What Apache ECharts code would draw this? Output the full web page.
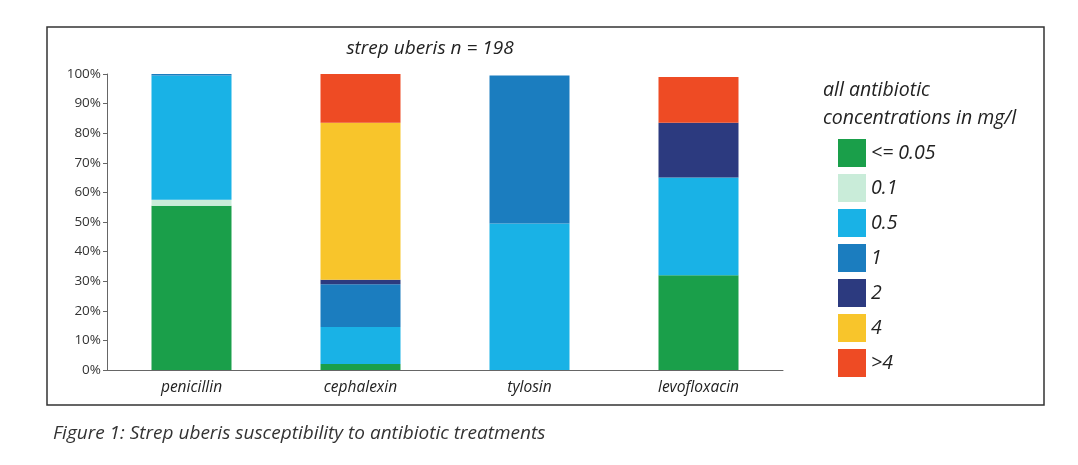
<!DOCTYPE html>
<html>
<head>
	<title>strep uberis</title>
	<meta charset="utf-8">
	<script src="https://cdn.jsdelivr.net/npm/echarts@6/dist/echarts.min.js"></script>
	<style>
		body { margin: 0; background: #fff; }
	</style>
</head>
<body>
<div id="chart" style="width: 1078px; height: 465px"></div>
<script>
	// antibiotics on the x axis
	const drugs = ['penicillin', 'cephalexin', 'tylosin', 'levofloxacin'];
	// concentration classes (mg/l)
	const concs = ['<= 0.05', '0.1', '0.5', '1', '2', '4', '>4'];
	const colors = ['#1a9f4a', '#c9ecd9', '#19b2e6', '#1b7dbf', '#2c3a7f', '#f8c52b', '#ee4b24'];

	// share of isolates in %, one array per concentration, order as drugs
	const le005 = [55.5, 2, 0, 32];
	const c01   = [2, 0, 0, 0];
	const c05   = [42, 12.5, 49.5, 33];
	const c1    = [0.5, 14.5, 50, 0];
	const c2    = [0, 1.5, 0, 18.5];
	const c4    = [0, 53, 0, 0];
	const gt4   = [0, 16.5, 0, 15.5];
	const values = [le005, c01, c05, c1, c2, c4, gt4];

	const font = 'Open Sans';

	function initData(){
		let option = {
			animation: false,
			textStyle: { fontFamily: font },
			title: [{
				text: 'strep uberis n = 198',
				left: 425, top: 34, textAlign: 'center',
				textStyle: { fontFamily: font, fontSize: 19, fontStyle: 'italic', fontWeight: 'normal', color: '#222' }
			}, {
				text: 'all antibiotic\nconcentrations in mg/l',
				left: 818, top: 71,
				textStyle: { fontFamily: font, fontSize: 19.5, fontStyle: 'italic', fontWeight: 'normal', color: '#222', lineHeight: 28 }
			}, {
				text: 'Figure 1: Strep uberis susceptibility to antibiotic treatments',
				left: 48, top: 419,
				textStyle: { fontFamily: font, fontSize: 19, fontStyle: 'italic', fontWeight: 'normal', color: '#333' }
			}],
			graphic: [{
				type: 'rect',
				shape: { x: 47, y: 27, width: 997, height: 378 },
				style: { fill: 'none', stroke: '#333', lineWidth: 1.5 },
				silent: true
			}],
			legend: {
				orient: 'vertical',
				left: 833, top: 134,
				itemWidth: 28, itemHeight: 28, itemGap: 7,
				icon: 'rect',
				data: concs,
				textStyle: { fontFamily: font, fontSize: 19.5, fontStyle: 'italic', color: '#222' }
			},
			grid: { left: 107, right: 295, top: 74, bottom: 95 },
			xAxis: {
				type: 'category',
				data: drugs,
				axisLine: { lineStyle: { color: '#666' } },
				axisTick: { alignWithLabel: true, length: 4, lineStyle: { color: '#666' } },
				axisLabel: { fontFamily: font, fontSize: 15.5, fontStyle: 'italic', color: '#222', margin: 10 }
			},
			yAxis: {
				type: 'value',
				min: 0, max: 100, interval: 10,
				axisLine: { show: true, lineStyle: { color: '#666' } },
				axisTick: { show: true, length: 4, lineStyle: { color: '#666' } },
				splitLine: { show: false },
				axisLabel: { formatter: '{value}%', fontFamily: font, fontSize: 13.5, color: '#333', margin: 6 }
			},
			series: concs.map((c, i) => ({
				name: c,
				type: 'bar',
				stack: 'all',
				barWidth: 80,
				itemStyle: { color: colors[i] },
				data: values[i]
			}))
		};
		let myChart = echarts.init(document.getElementById('chart'));
		myChart.setOption(option);
	}
	initData();
</script>
</body>
</html>
